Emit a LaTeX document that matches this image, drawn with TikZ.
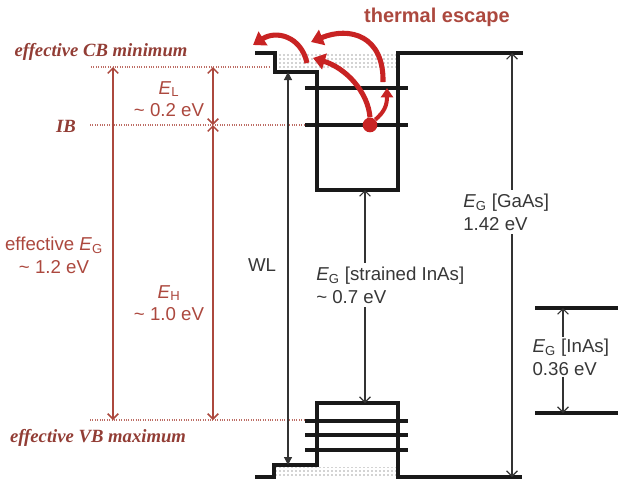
\documentclass[tikz,border=0pt]{standalone}
\usepackage{fontspec}
\setmainfont{Liberation Sans}
\newfontfamily\timesfont{Liberation Serif}
\usepackage{tikz}
\usetikzlibrary{arrows.meta, patterns, positioning, calc}
\definecolor{escred}{RGB}{200,35,35}
\definecolor{labred}{RGB}{172,72,62}
\definecolor{txtgray}{RGB}{55,55,55}
\tikzset{
	bandline/.style={line width=2.6pt, color=black!90, line join=miter},
	levelline/.style={line width=2.6pt, color=black!90}
}
\tikzset{
	gaptext/.style={font=\fontsize{14}{17}\selectfont, text=txtgray, align=left, inner sep=3pt},
	redtext/.style={font=\fontsize{14}{17}\selectfont, text=labred, align=center, inner sep=1pt},
	tagtext/.style={font=\timesfont\fontsize{14}{17}\selectfont\bfseries\itshape, text=labred!85!black},
	gaparrow/.style={line width=0.9pt, color=black!80},
	redarrow/.style={line width=1.1pt, color=labred},
	reddots/.style={line width=0.8pt, color=labred!80, densely dotted},
	escarrow/.style={line width=3.8pt, color=escred, -{Triangle[length=9pt,width=12pt]}}
}

\begin{document}
\begin{tikzpicture}[x=0.75pt, y=-0.75pt]
      \useasboundingbox (0,0) rectangle (618,479);

      % filled states in wetting layer (CB and VB)
      \fill[pattern=dots, pattern color=black!75] (276,54) rectangle (398,69);
      \fill[pattern=dots, pattern color=black!75] (276,467) rectangle (398,476);

      % red guide lines
      \draw[reddots] (91,67) -- (270,67);
      \draw[reddots] (90,125) -- (304,125);
      \draw[reddots] (90,420) -- (304,420);

      % conduction band: GaAs / WL / InAs dot / GaAs
      \draw[bandline] (255,53) -- (275,53) -- (275,72) -- (317,72) -- (317,190)
        -- (398,190) -- (398,53) -- (523,53);
      % valence band
      \draw[bandline] (255,477) -- (274,477) -- (274,465) -- (317,465) -- (317,403)
        -- (398,403) -- (398,477) -- (522,477);

      % confined levels in the dot
      \foreach \y in {88,125} {
        \draw[levelline] (305,\y) -- (408,\y);
      }
      \foreach \y in {421,435,450} {
        \draw[levelline] (305,\y) -- (408,\y);
      }

      % bulk InAs
      \draw[levelline] (535,308) -- (618,308);
      \draw[levelline] (535,413) -- (618,413);

      % gap arrows
      \coordinate (wlT) at (288,72);
      \coordinate (wlB) at (288,465);
      \draw[gaparrow, {Triangle[length=6pt,width=6pt]}-{Triangle[length=6pt,width=6pt]}] (wlT) -- (wlB);
      \node[gaptext] (wl) at (262,265) {WL};

      \coordinate (qdT) at (365,190);
      \coordinate (qdB) at (365,403);
      \node[gaptext, anchor=west] (qdgap) at (312,285)
        {\textit{E}\textsubscript{G} [strained InAs]\\\textasciitilde\ 0.7 eV};
      \draw[gaparrow, -{Straight Barb[length=4pt,width=8pt]}] (qdgap.north -| qdT) -- (qdT);
      \draw[gaparrow, -{Straight Barb[length=4pt,width=8pt]}] (qdgap.south -| qdB) -- (qdB);

      \coordinate (gaT) at (512,53);
      \coordinate (gaB) at (512,477);
      \node[gaptext, anchor=west] (gagap) at (459,212)
        {\textit{E}\textsubscript{G} [GaAs]\\1.42 eV};
      \draw[gaparrow, -{Straight Barb[length=4pt,width=8pt]}] (gagap.north -| gaT) -- (gaT);
      \draw[gaparrow, -{Straight Barb[length=4pt,width=8pt]}] (gagap.south -| gaB) -- (gaB);

      \coordinate (inT) at (563,308);
      \coordinate (inB) at (563,413);
      \node[gaptext, anchor=west, inner sep=1pt] (ingap) at (531,357)
        {\textit{E}\textsubscript{G} [InAs]\\0.36 eV};
      \draw[gaparrow, -{Straight Barb[length=4pt,width=8pt]}] (ingap.north -| inT) -- (inT);
      \draw[gaparrow, -{Straight Barb[length=4pt,width=8pt]}] (ingap.south -| inB) -- (inB);

      % effective gaps (red)
      \coordinate (effT) at (113,67);
      \coordinate (effB) at (113,420);
      \draw[redarrow, {Straight Barb[length=4pt,width=8pt]}-{Straight Barb[length=4pt,width=8pt]}] (effT) -- (effB);
      \node[redtext] (effgap) at (54,255) {effective \textit{E}\textsubscript{G}\\\textasciitilde\ 1.2 eV};

      \coordinate (elT) at (213,67);
      \coordinate (elM) at (213,125);
      \coordinate (elB) at (213,420);
      \draw[redarrow, {Straight Barb[length=4pt,width=8pt]}-{Straight Barb[length=4pt,width=8pt]}] (elT) -- (elM);
      \draw[redarrow, {Straight Barb[length=4pt,width=8pt]}-{Straight Barb[length=4pt,width=8pt]}] (elM) -- (elB);
      \node[redtext] (elgap) at (169,99) {\textit{E}\textsubscript{L}\\\textasciitilde\ 0.2 eV};
      \node[redtext] (ehgap) at (169,303) {\textit{E}\textsubscript{H}\\\textasciitilde\ 1.0 eV};

      \node[tagtext] (cbmin) at (101,52) {effective CB minimum};
      \node[tagtext] (ib) at (66,126) {IB};
      \node[tagtext] (vbmax) at (98,438) {effective VB maximum};

      % thermal escape out of the IB
      \node[circle, fill=escred, minimum size=11pt, inner sep=0pt] (dot) at (370,125) {};
      \draw[escarrow] (dot.north) .. controls (368,92) and (346,68) .. (313,58);
      \draw[escarrow] (383,82) .. controls (384,36) and (350,26) .. (311,42);
      \draw[escarrow] (307,63) .. controls (301,36) and (276,30) .. (253,45);
      \draw[escarrow, line width=3pt, -{Triangle[length=7pt,width=9pt]}] (dot.north east)
        .. controls (384,112) and (387,106) .. (387,88);
      \node[font=\fontsize{15}{17}\selectfont\bfseries, text=labred] (escape) at (437,17) {thermal escape};
    \end{tikzpicture}
\end{document}
